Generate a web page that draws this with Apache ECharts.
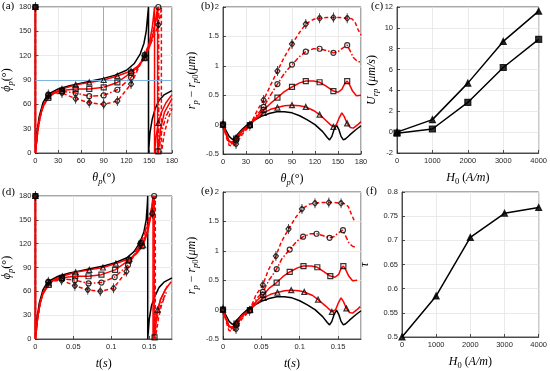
<!DOCTYPE html>
<html><head><meta charset="utf-8">
<script src="https://cdn.jsdelivr.net/npm/echarts@6/dist/echarts.min.js"></script>
<style>html,body{margin:0;padding:0;background:#fff}#c{width:550px;height:371px}</style>
</head><body><div id="c"></div>
<script>
// ---------- panel (a): phi_p vs theta_p ----------
const aBlackX = [0,0,2,5,10,15,20,30,45,60,75,90,105,120,130,138,143,146,148,149,149,151,154,158,163,170,180];
const aBlackY = [180,0,25,45,62,70,74,79,83,86,89,92,96,102,110,122,135,150,170,180,0,25,42,55,65,72,77];
const aTriX = [0,0,3,6,10,17,25,35,53,71,90,108,126,135,144,150,154,157,157,159,162,166,172,180];
const aTriY = [180,0,28,45,58,70,75,79,84,87,90,95,101,107,118,135,155,180,0,20,37,50,62,72];
const aSqX = [0,0,3,6,10,17,25,35,53,71,90,108,126,135,144,152,157,161,161,162,165,170,180];
const aSqY = [180,0,27,44,57,68,74,77,79,79,81,87,99,106,117,135,155,180,0,3,30,50,67];
const aCiX = [0,0,3,6,10,17,25,35,53,71,90,108,126,135,144,152,158,162.5,162.5,166,172,180];
const aCiY = [180,0,27,44,58,72,74,76,74,70,71,78,93,105,121,140,160,180,0,25,45,60];
const aDiX = [0,0,3,6,10,17,25,35,53,71,90,108,126,135,144,152,158,162,165,166,166,170,175,180];
const aDiY = [180,0,26,43,57,72,73,74,67,62,60,64,85,103,120,135,148,158,172,180,0,25,42,55];
const aMarkX = [0,17,35,53,71,90,108,126,144,162];
const aTriM = [180,70,79,84,87,90,95,101,118,37];
const aSqM = [180,68,77,79,79,81,87,99,117,2];
const aCiM = [180,72,76,74,70,71,78,93,121,180];
const aDiM = [180,72,74,67,62,60,64,85,120,158];

// ---------- panel (d): phi_p vs t ----------
const dBlackX = [0,0,0.002,0.005,0.01,0.015,0.02,0.03,0.045,0.06,0.075,0.09,0.105,0.12,0.13,0.138,0.143,0.146,0.1475,0.148,0.148,0.15,0.153,0.158,0.163,0.17,0.18];
const dTriX = [0,0,0.003,0.006,0.01,0.0175,0.025,0.0355,0.053,0.071,0.089,0.106,0.124,0.133,0.142,0.148,0.152,0.155,0.155,0.157,0.161,0.165,0.171,0.179];
const dSqX = [0,0,0.003,0.006,0.01,0.0175,0.024,0.035,0.0525,0.07,0.087,0.105,0.123,0.131,0.14,0.147,0.152,0.1565,0.1565,0.157,0.16,0.165,0.174];
const dCiX = [0,0,0.003,0.006,0.01,0.017,0.024,0.035,0.052,0.07,0.087,0.1045,0.122,0.13,0.139,0.146,0.152,0.1565,0.1565,0.16,0.166,0.173];
const dDiX = [0,0,0.003,0.006,0.0095,0.017,0.024,0.0345,0.052,0.069,0.0855,0.103,0.12,0.128,0.138,0.145,0.15,0.154,0.157,0.158,0.158,0.162,0.166,0.171];
const tTriMX = [0,0.0175,0.0355,0.053,0.071,0.089,0.106,0.124,0.142,0.161];
const tSqMX = [0,0.0175,0.035,0.0525,0.07,0.087,0.105,0.123,0.14,0.157];
const tCiMX = [0,0.017,0.035,0.052,0.07,0.087,0.1045,0.122,0.139,0.1565];
const tDiMX = [0,0.017,0.0345,0.052,0.069,0.0855,0.103,0.12,0.138,0.154];

// ---------- panel (b): r_p - r_p0 vs theta_p ----------
const bBlackX = [0,4,8,12,16,20,25,30,35,40,50,60,70,80,90,100,110,120,130,136,139,142,145,148,151,154,157,160,165,172,180];
const bBlackY = [0,-0.1,-0.2,-0.25,-0.22,-0.15,-0.08,-0.02,0.03,0.07,0.14,0.19,0.22,0.22,0.2,0.15,0.08,0,-0.12,-0.22,-0.26,-0.2,-0.08,-0.01,-0.08,-0.2,-0.26,-0.24,-0.18,-0.1,-0.02];
const bTriX = [0,4,8,12,17,25,35,45,53,62,71,80,90,100,108,118,126,135,140,144,148,151,155,158,162,166,170,175,180];
const bTriY = [0,-0.15,-0.28,-0.3,-0.22,-0.1,0,0.12,0.2,0.26,0.29,0.32,0.33,0.32,0.3,0.24,0.17,0.06,0,-0.04,0,0.1,0.2,0.14,0.02,-0.05,-0.06,-0.01,0.05];
const bSqX = [0,4,8,12,17,25,35,45,53,62,71,80,90,100,108,118,126,135,144,150,155,159,162,165,169,174,180];
const bSqY = [0,-0.15,-0.29,-0.31,-0.24,-0.12,-0.01,0.15,0.25,0.36,0.46,0.56,0.64,0.71,0.74,0.74,0.72,0.65,0.57,0.55,0.6,0.7,0.74,0.68,0.57,0.49,0.5];
const bCiX = [0,4,8,12,17,25,35,45,53,62,71,80,90,100,108,118,126,135,144,150,156,162,166,170,175,180];
const bCiY = [0,-0.17,-0.31,-0.33,-0.27,-0.14,-0.01,0.18,0.3,0.5,0.69,0.87,1.02,1.16,1.24,1.29,1.29,1.26,1.22,1.24,1.3,1.35,1.25,1.14,1.08,1.06];
const bDiX = [0,4,8,12,17,25,35,45,53,62,71,80,90,100,108,118,126,135,144,153,162,168,172,176,180];
const bDiY = [0,-0.2,-0.35,-0.37,-0.33,-0.17,-0.02,0.25,0.42,0.67,0.91,1.15,1.37,1.57,1.71,1.79,1.81,1.82,1.82,1.82,1.81,1.8,1.75,1.62,1.52];
const bMarkX = [0,17,35,53,71,90,108,126,144,162];
const bTriM = [0,-0.22,0,0.2,0.29,0.33,0.3,0.17,-0.04,0.02];
const bSqM = [0,-0.24,-0.01,0.25,0.46,0.64,0.74,0.72,0.57,0.74];
const bCiM = [0,-0.27,-0.01,0.3,0.69,1.02,1.24,1.29,1.22,1.35];
const bDiM = [0,-0.33,-0.02,0.42,0.91,1.37,1.71,1.81,1.82,1.81];

// ---------- panel (e): r_p - r_p0 vs t ----------
const eBlackX = [0,0.004,0.008,0.012,0.016,0.02,0.025,0.03,0.035,0.04,0.05,0.06,0.07,0.08,0.09,0.1,0.11,0.12,0.13,0.136,0.139,0.142,0.145,0.148,0.151,0.154,0.157,0.16,0.165,0.172,0.18];
const eTriX = [0,0.004,0.008,0.012,0.0175,0.025,0.0355,0.045,0.053,0.062,0.071,0.08,0.089,0.099,0.106,0.117,0.124,0.134,0.139,0.142,0.147,0.15,0.154,0.157,0.161,0.165,0.169,0.174,0.179];
const eSqX = [0,0.004,0.008,0.0115,0.0175,0.024,0.035,0.044,0.0525,0.06,0.07,0.078,0.087,0.097,0.105,0.115,0.123,0.131,0.14,0.146,0.151,0.154,0.157,0.16,0.164,0.169,0.175];
const eCiX = [0,0.004,0.008,0.0115,0.017,0.024,0.035,0.0435,0.052,0.06,0.07,0.077,0.087,0.096,0.1045,0.114,0.122,0.13,0.139,0.1445,0.15,0.156,0.16,0.164,0.1685,0.173];
const eDiX = [0,0.004,0.0076,0.0114,0.017,0.024,0.0345,0.043,0.052,0.059,0.069,0.076,0.0855,0.095,0.103,0.112,0.12,0.128,0.138,0.1455,0.154,0.16,0.1635,0.1675,0.171];

// ---------- panels (c) and (f) ----------
const hX = [0,1000,2000,3000,4000];
const cTri = [0,1.2,4.7,8.7,11.6];
const cSq = [-0.1,0.3,2.85,6.2,8.9];
const fTau = [0.5,0.585,0.706,0.756,0.768];

// ---------- helpers ----------
const zip = (xs, ys) => xs.map((x, i) => [x, ys[i]]);
const RED = '#ff0000', BLK = '#000000';
const SANS = 'Liberation Sans', SERIF = 'Liberation Serif';
const DIAMOND = 'path://M5,0 L10,7 L5,14 L0,7 Z M5,-4 L5,18';

function line(ax, xs, ys, color, type, z) {
  return {type:'line', xAxisIndex:ax, yAxisIndex:ax, data:zip(xs, ys), symbol:'none',
    lineStyle:{color:color, width:1.5, type:type}, z:z||2, animation:false, silent:true};
}
function marks(ax, xs, ys, sym, filled) {
  const isD = sym === 'diamond';
  return {type:'scatter', xAxisIndex:ax, yAxisIndex:ax, data:zip(xs, ys), clip:false,
    symbol: isD ? DIAMOND : sym, symbolSize: isD ? [5,10] : (filled ? 6 : 5),
    itemStyle:{color: filled ? '#000' : 'rgba(0,0,0,0)', borderColor:'#000', borderWidth:1.2},
    z:5, animation:false, silent:true};
}
const rich = {
  i:{fontFamily:SERIF, fontStyle:'italic', fontSize:12, lineHeight:16, color:'#000'},
  n:{fontFamily:SERIF, fontSize:12, lineHeight:16, color:'#000'},
  s:{fontFamily:SERIF, fontStyle:'italic', fontSize:8.5, lineHeight:10, verticalAlign:'bottom', color:'#000'},
  u:{fontFamily:SERIF, fontSize:8.5, lineHeight:10, verticalAlign:'bottom', color:'#000'}
};
const plain = v => String(v);
function axis(o) {
  return Object.assign({
    type:'value', nameLocation:'middle', nameTextStyle:{rich:rich},
    axisLine:{show:true, onZero:false, lineStyle:{color:'#262626', width:0.8}},
    axisTick:{show:true, inside:true, length:3, lineStyle:{color:'#262626', width:0.8}},
    axisLabel:{fontFamily:SANS, fontSize:7.5, color:'#262626', margin:4, formatter:plain},
    splitLine:{show:true, lineStyle:{color:'#e4e4e4', width:0.8}}
  }, o);
}
const grids = [
  {left:34, top:7, width:138, height:146},
  {left:223, top:7, width:138, height:147},
  {left:397, top:7, width:143, height:146},
  {left:34, top:196, width:138, height:145},
  {left:223, top:192, width:138, height:149},
  {left:402, top:192, width:137, height:147}
].map(g => Object.assign({show:true, borderColor:'#262626', borderWidth:0.8, backgroundColor:'#fff'}, g));

const thName = '{i|θ}{s|p}{n|(°)}';
const phName = '{i|ϕ}{s|p}{n|(°)}';
const rName = '{i|r}{s|p}{n| − }{i|r}{s|p}{u|0}{n|(}{i|μm}{n|)}';
const tName = '{i|t}{n|(}{i|s}{n|)}';
const hName = '{i|H}{u|0}{n| (}{i|A/m}{n|)}';
const uName = '{i|U}{s|r}{s|p}{n| (}{i|μm/s}{n|)}';
const tauName = '{i|τ}';

const xAxes = [
  axis({gridIndex:0, min:0, max:180, interval:30, name:thName, nameGap:17}),
  axis({gridIndex:1, min:0, max:180, interval:30, name:thName, nameGap:17}),
  axis({gridIndex:2, min:0, max:4000, interval:1000, name:hName, nameGap:17}),
  axis({gridIndex:3, min:0, max:0.18, interval:0.05, name:tName, nameGap:17}),
  axis({gridIndex:4, min:0, max:0.18, interval:0.05, name:tName, nameGap:17}),
  axis({gridIndex:5, min:0, max:4000, interval:1000, name:hName, nameGap:17})
];
xAxes[3].axisLabel = Object.assign({}, xAxes[3].axisLabel, {showMaxLabel:false});
xAxes[4].axisLabel = Object.assign({}, xAxes[4].axisLabel, {showMaxLabel:false});
const yAxes = [
  axis({gridIndex:0, min:0, max:180, interval:30, name:phName, nameGap:20}),
  axis({gridIndex:1, min:-0.5, max:2, interval:0.5, name:rName, nameGap:23}),
  axis({gridIndex:2, min:-2, max:12, interval:2, name:uName, nameGap:17}),
  axis({gridIndex:3, min:0, max:180, interval:30, name:phName, nameGap:20}),
  axis({gridIndex:4, min:-0.5, max:2, interval:0.5, name:rName, nameGap:23}),
  axis({gridIndex:5, min:0.5, max:0.8, interval:0.05, name:tauName, nameGap:29})
];

const series = [];
// (a)
const aBlack = line(0, aBlackX, aBlackY, BLK, 'solid', 2);
aBlack.markLine = {silent:true, symbol:'none', animation:false, label:{show:false},
  lineStyle:{color:'#80b3de', width:1, type:'solid'}, data:[{xAxis:90},{yAxis:90}]};
series.push(aBlack,
  line(0, aTriX, aTriY, RED, 'solid', 3), line(0, aSqX, aSqY, RED, 'solid', 3),
  line(0, aCiX, aCiY, RED, [5,2,1.5,2], 3), line(0, aDiX, aDiY, RED, [4,2.5], 3),
  marks(0, aMarkX, aTriM, 'triangle'), marks(0, aMarkX, aSqM, 'rect'),
  marks(0, aMarkX, aCiM, 'circle'), marks(0, aMarkX, aDiM, 'diamond'));
// (b)
series.push(line(1, bBlackX, bBlackY, BLK, 'solid', 2),
  line(1, bTriX, bTriY, RED, 'solid', 3), line(1, bSqX, bSqY, RED, 'solid', 3),
  line(1, bCiX, bCiY, RED, [5,2,1.5,2], 3), line(1, bDiX, bDiY, RED, [4,2.5], 3),
  marks(1, bMarkX, bTriM, 'triangle'), marks(1, bMarkX, bSqM, 'rect'),
  marks(1, bMarkX, bCiM, 'circle'), marks(1, bMarkX, bDiM, 'diamond'));
// (c)
series.push(line(2, hX, cTri, BLK, 'solid', 2), line(2, hX, cSq, BLK, 'solid', 2),
  marks(2, hX, cTri, 'triangle', true), marks(2, hX, cSq, 'rect', true));
// (d)
series.push(line(3, dBlackX, aBlackY, BLK, 'solid', 2),
  line(3, dTriX, aTriY, RED, 'solid', 3), line(3, dSqX, aSqY, RED, 'solid', 3),
  line(3, dCiX, aCiY, RED, [5,2,1.5,2], 3), line(3, dDiX, aDiY, RED, [4,2.5], 3),
  marks(3, tTriMX, aTriM, 'triangle'), marks(3, tSqMX, aSqM, 'rect'),
  marks(3, tCiMX, aCiM, 'circle'), marks(3, tDiMX, aDiM, 'diamond'));
// (e)
series.push(line(4, eBlackX, bBlackY, BLK, 'solid', 2),
  line(4, eTriX, bTriY, RED, 'solid', 3), line(4, eSqX, bSqY, RED, 'solid', 3),
  line(4, eCiX, bCiY, RED, [5,2,1.5,2], 3), line(4, eDiX, bDiY, RED, [4,2.5], 3),
  marks(4, tTriMX, bTriM, 'triangle'), marks(4, tSqMX, bSqM, 'rect'),
  marks(4, tCiMX, bCiM, 'circle'), marks(4, tDiMX, bDiM, 'diamond'));
// (f)
series.push(line(5, hX, fTau, BLK, 'solid', 2), marks(5, hX, fTau, 'triangle', true));

const panelLabels = [['(a)',2,1],['(b)',201,1],['(c)',371,1],['(d)',2,187],['(e)',201,186],['(f)',366,186]];
const graphic = panelLabels.map(p => ({type:'text', left:p[1], top:p[2], z:100,
  style:{text:p[0], font:'11px "Liberation Serif"', fill:'#000'}}));

const chart = echarts.init(document.getElementById('c'), null, {renderer:'canvas'});
chart.setOption({animation:false, backgroundColor:'#fff', grid:grids, xAxis:xAxes, yAxis:yAxes, series:series, graphic:graphic});
</script></body></html>
